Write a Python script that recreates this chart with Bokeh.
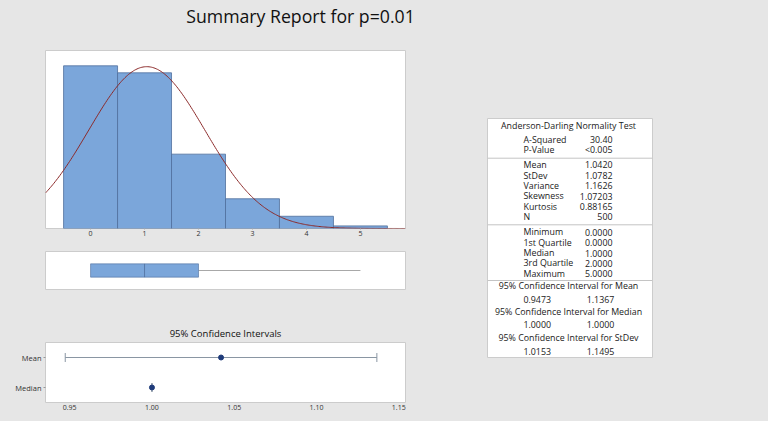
import numpy as np
from bokeh.plotting import figure
from bokeh.layouts import column, row
from bokeh.models import (Range1d, FixedTicker, NumeralTickFormatter, ColumnDataSource,
                          Whisker, TeeHead, FactorRange)
from bokeh.core.properties import value
from bokeh.embed import file_html
from bokeh.resources import INLINE

# ---------------- data ----------------
title_text = "Summary Report for p=0.01"
bin_values = [0, 1, 2, 3, 4, 5]
bin_counts = [186, 178, 85, 34, 14, 3]
n_obs = 500
mean_val = 1.0420
stdev_val = 1.0782
min_val = 0.0
q1_val = 0.0
median_val = 1.0
q3_val = 2.0
max_val = 5.0
whisker_hi = 5.0

ci_title = "95% Confidence Intervals"
ci_labels = ["Mean", "Median"]
ci_centers = [1.0420, 1.0000]
ci_lower = [0.9473, 1.0000]
ci_upper = [1.1367, 1.0000]
ci_ticks = [0.95, 1.00, 1.05, 1.10, 1.15]

ad_title = "Anderson-Darling Normality Test"
ad_labels = ["A-Squared", "P-Value"]
ad_values = ["30.40", "<0.005"]
moment_labels = ["Mean", "StDev", "Variance", "Skewness", "Kurtosis", "N"]
moment_values = ["1.0420", "1.0782", "1.1626", "1.07203", "0.88165", "500"]
quant_labels = ["Minimum", "1st Quartile", "Median", "3rd Quartile", "Maximum"]
quant_values = ["0.0000", "0.0000", "1.0000", "2.0000", "5.0000"]
ci_headers = ["95% Confidence Interval for Mean",
              "95% Confidence Interval for Median",
              "95% Confidence Interval for StDev"]
ci_low_txt = ["0.9473", "1.0000", "1.0153"]
ci_high_txt = ["1.1367", "1.0000", "1.1495"]

# ---------------- styles ----------------
BG = "#e6e6e6"
BAR_FILL = "#7ba6da"
BAR_LINE = "#4f6f9c"
PANEL_LINE = "#cccccc"
FONT = "Open Sans"
X_LO, X_HI = -0.835, 5.835


def style_fig(p):
    p.background_fill_color = "white"
    p.border_fill_color = BG
    p.outline_line_color = PANEL_LINE
    p.outline_line_width = 1
    p.grid.grid_line_color = None


# ---------------- title ----------------
tfig = figure(width=600, height=48, toolbar_location=None, output_backend="svg",
              x_axis_type=None, y_axis_type=None, min_border=0, title=title_text)
tfig.background_fill_color = BG
tfig.border_fill_color = BG
tfig.outline_line_color = None
tfig.title.align = "center"
tfig.title.text_font = FONT
tfig.title.text_font_size = "17.7px"
tfig.title.text_font_style = "normal"
tfig.title.text_color = "#111111"
tfig.title.standoff = 2

# ---------------- histogram ----------------
xr = Range1d(X_LO, X_HI)
hist = figure(width=448, height=202, x_range=xr, y_range=Range1d(0, 203.5),
              toolbar_location=None, output_backend="svg", y_axis_type=None,
              min_border_left=45, min_border_right=43, min_border_top=2, min_border_bottom=22)
style_fig(hist)
bins = np.array(bin_values, dtype=float)
hist.quad(left=bins - 0.5, right=bins + 0.5, bottom=0, top=bin_counts,
          fill_color=BAR_FILL, line_color=BAR_LINE, line_width=0.8)
xs = np.linspace(X_LO, X_HI, 300)
ys = n_obs * 1.0 * np.exp(-0.5 * ((xs - mean_val) / stdev_val) ** 2) / (stdev_val * np.sqrt(2 * np.pi))
hist.line(xs, ys, line_color="#8c2b2b", line_width=1)
hist.xaxis.ticker = FixedTicker(ticks=bin_values)
hist.xaxis.axis_line_color = None
hist.xaxis.major_tick_out = 1
hist.xaxis.major_tick_in = 0
hist.xaxis.minor_tick_line_color = None
hist.xaxis.major_tick_line_color = "#aaaaaa"
hist.xaxis.major_label_standoff = 1
hist.xaxis.major_label_text_font = FONT
hist.xaxis.major_label_text_font_size = "7px"
hist.xaxis.major_label_text_color = "#333333"

# ---------------- boxplot ----------------
box = figure(width=448, height=66, x_range=xr, y_range=Range1d(0, 1),
             toolbar_location=None, output_backend="svg", x_axis_type=None, y_axis_type=None,
             min_border_left=45, min_border_right=43, min_border_top=1, min_border_bottom=27)
style_fig(box)
box.segment(x0=[q3_val], x1=[whisker_hi], y0=[0.5], y1=[0.5], line_color="#a8a8a8", line_width=1)
box.segment(x0=[min_val], x1=[q1_val], y0=[0.5], y1=[0.5], line_color="#a8a8a8", line_width=1)
box.hbar(y=[0.5], left=[q1_val], right=[q3_val], height=0.35,
         fill_color=BAR_FILL, line_color=BAR_LINE, line_width=0.6)
box.segment(x0=[median_val], x1=[median_val], y0=[0.325], y1=[0.675], line_color=BAR_LINE, line_width=0.8)

# ---------------- confidence intervals ----------------
ci = figure(width=448, height=105, x_range=Range1d(0.9353, 1.1541),
            y_range=FactorRange(factors=["Median", "Mean"]),
            toolbar_location=None, output_backend="svg", title=ci_title,
            min_border_left=45, min_border_right=43, min_border_top=26, min_border_bottom=19)
style_fig(ci)
ci.title.align = "center"
ci.title.text_font = FONT
ci.title.text_font_size = "9.5px"
ci.title.text_font_style = "normal"
ci.title.text_color = "#111111"
ci.title.standoff = 6
src = ColumnDataSource(dict(label=ci_labels, c=ci_centers, lo=ci_lower, hi=ci_upper))
wh = Whisker(source=src, base="label", lower="lo", upper="hi", dimension="width",
             line_color="#8a96a3", line_width=1,
             lower_head=TeeHead(size=9, line_color="#8a96a3", line_width=1),
             upper_head=TeeHead(size=9, line_color="#8a96a3", line_width=1))
ci.add_layout(wh)
ci.scatter(x="c", y="label", source=src, size=5, color="#1f3b7a")
ci.xaxis.ticker = FixedTicker(ticks=ci_ticks)
ci.xaxis.formatter = NumeralTickFormatter(format="0.00")
for ax in (ci.xaxis, ci.yaxis):
    ax.axis_line_color = None
    ax.minor_tick_line_color = None
    ax.major_label_text_font = FONT
    ax.major_label_text_color = "#333333"
    ax.major_tick_in = 0
ci.xaxis.major_label_text_font_size = "7px"
ci.yaxis.major_label_text_font_size = "7.5px"
ci.xaxis.major_tick_out = 0
ci.xaxis.major_label_standoff = 2
ci.yaxis.major_tick_out = 2
ci.yaxis.major_tick_line_color = "#999999"
ci.yaxis.major_label_standoff = 2

left_col = column(hist, box, ci)

# ---------------- stats table ----------------
TW, TH = 165, 239
tab = figure(width=320, height=373, x_range=Range1d(0, TW), y_range=Range1d(TH, 0),
             toolbar_location=None, output_backend="svg", x_axis_type=None, y_axis_type=None,
             min_border_left=39, min_border_right=116, min_border_top=70, min_border_bottom=64)
style_fig(tab)

LBL_X, VAL_X, MID_X, LO_X, HI_X = 36, 125, 81, 49.7, 113
TXT = dict(text_font=value(FONT), text_font_size="8.85px", text_color="#1a1a1a",
           text_baseline="middle")

ad_rows = [21, 31.3]
mom_rows = [46.3, 57, 67.3, 77.7, 88, 98.3]
qua_rows = [113.7, 124.3, 134.7, 144.7, 155]
hdr_rows = [167.7, 193, 219.3]
val_rows = [181, 206.3, 232.7]
sep_rows = [39.7, 106.3, 162]

tab.text(x=[MID_X], y=[7.7], text=[ad_title], text_align="center", **TXT)
lbls = ad_labels + moment_labels + quant_labels
vals = ad_values + moment_values + quant_values
rows_y = ad_rows + mom_rows + qua_rows
tab.text(x=[LBL_X] * len(lbls), y=rows_y, text=lbls, text_align="left", **TXT)
tab.text(x=[VAL_X] * len(vals), y=rows_y, text=vals, text_align="right", **TXT)
tab.text(x=[MID_X] * 3, y=hdr_rows, text=ci_headers, text_align="center", **TXT)
tab.text(x=[LO_X] * 3, y=val_rows, text=ci_low_txt, text_align="center", **TXT)
tab.text(x=[HI_X] * 3, y=val_rows, text=ci_high_txt, text_align="center", **TXT)
tab.segment(x0=[0] * 3, x1=[TW] * 3, y0=sep_rows, y1=sep_rows, line_color="#c4c4c4", line_width=1)

layout = column(tfig, row(left_col, tab))
layout.styles = {"background-color": BG}

open("out.html", "w").write(file_html(layout, INLINE))
